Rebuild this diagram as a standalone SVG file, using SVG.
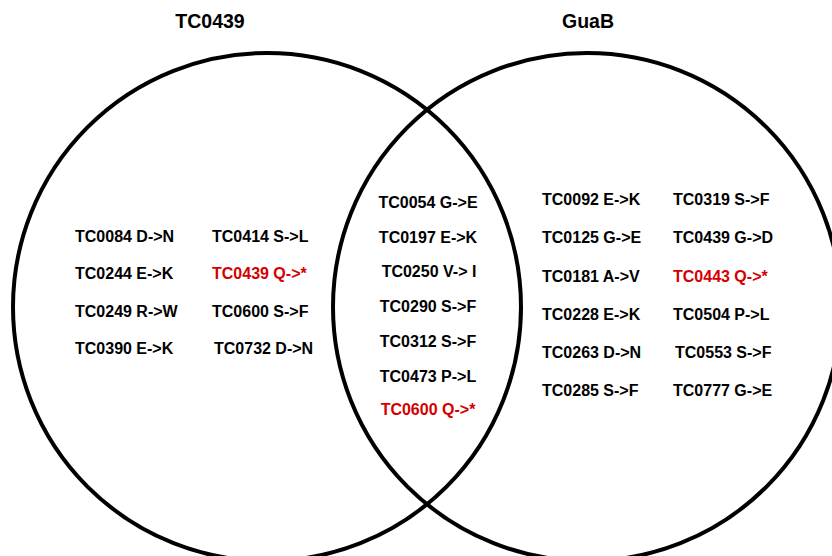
<svg xmlns="http://www.w3.org/2000/svg" width="832" height="556" viewBox="0 0 832 556">
<style>
.c{fill:none;stroke:#000;stroke-width:4}
text{font-family:"Liberation Sans",Arial,sans-serif;font-weight:bold;font-size:16px;fill:#000}
.t{font-size:19.5px;text-anchor:middle}
.r{fill:#d40000}
.m{text-anchor:middle}
</style>
<rect width="832" height="556" fill="#fff"/>
<g id="set-TC0439">
<circle class="c" cx="267" cy="307" r="254"/>
<text class="t" x="210" y="28">TC0439</text>
<text x="75" y="242">TC0084 D-&gt;N</text>
<text x="75" y="279">TC0244 E-&gt;K</text>
<text x="75" y="317">TC0249 R-&gt;W</text>
<text x="75" y="354">TC0390 E-&gt;K</text>
<text x="212" y="242">TC0414 S-&gt;L</text>
<text class="r" x="212" y="279">TC0439 Q-&gt;*</text>
<text x="212" y="317">TC0600 S-&gt;F</text>
<text x="214" y="354">TC0732 D-&gt;N</text>
</g>
<g id="set-GuaB">
<circle class="c" cx="587" cy="307" r="254"/>
<text class="t" x="588" y="28">GuaB</text>
<text x="542" y="205">TC0092 E-&gt;K</text>
<text x="542" y="243">TC0125 G-&gt;E</text>
<text x="542" y="282">TC0181 A-&gt;V</text>
<text x="542" y="320">TC0228 E-&gt;K</text>
<text x="542" y="358">TC0263 D-&gt;N</text>
<text x="542" y="396">TC0285 S-&gt;F</text>
<text x="673" y="205">TC0319 S-&gt;F</text>
<text x="673" y="243">TC0439 G-&gt;D</text>
<text class="r" x="673" y="282">TC0443 Q-&gt;*</text>
<text x="673" y="320">TC0504 P-&gt;L</text>
<text x="675" y="358">TC0553 S-&gt;F</text>
<text x="673" y="396">TC0777 G-&gt;E</text>
</g>
<g id="intersection">
<text class="m" x="428" y="208">TC0054 G-&gt;E</text>
<text class="m" x="428" y="243">TC0197 E-&gt;K</text>
<text class="m" x="429" y="277">TC0250 V-&gt; I</text>
<text class="m" x="428" y="312">TC0290 S-&gt;F</text>
<text class="m" x="428" y="347">TC0312 S-&gt;F</text>
<text class="m" x="428" y="382">TC0473 P-&gt;L</text>
<text class="m r" x="428" y="415">TC0600 Q-&gt;*</text>
</g>
<g id="connectors"></g>
</svg>
